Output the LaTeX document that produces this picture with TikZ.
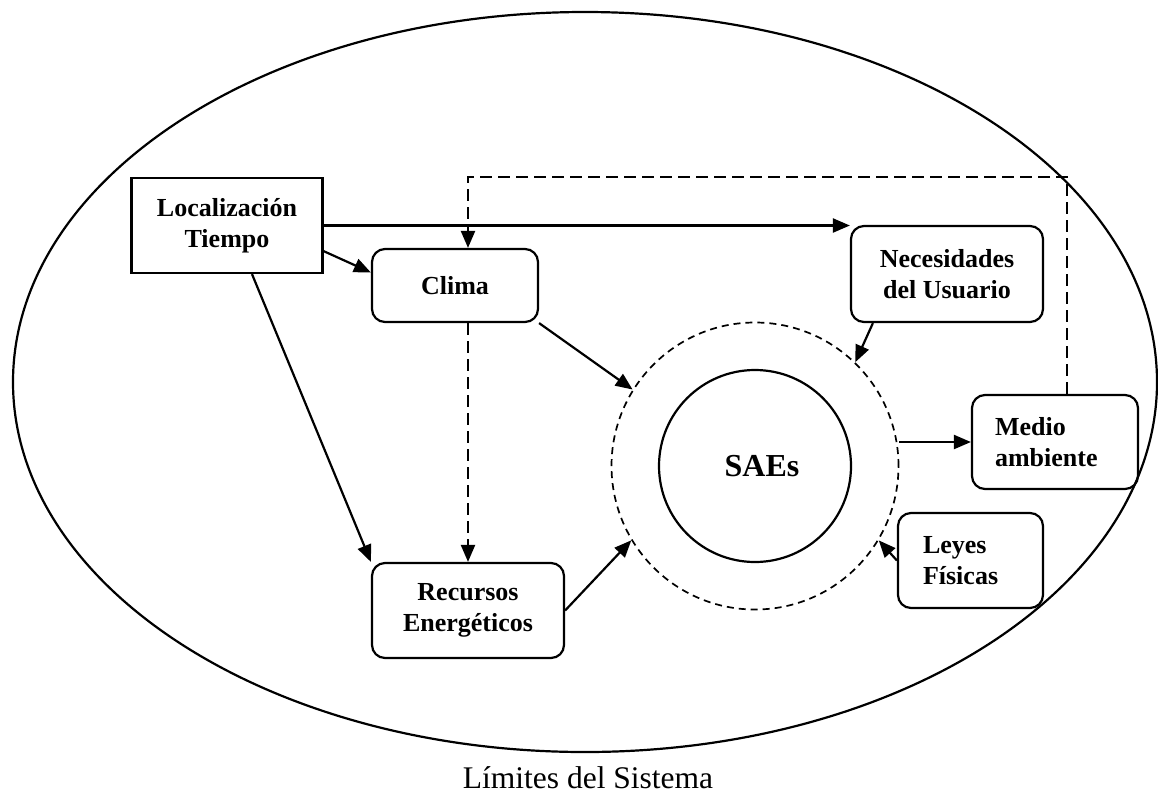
\documentclass[tikz,border=0pt]{standalone}
\usepackage{fontspec}
\setmainfont{Liberation Serif}
\usetikzlibrary{arrows.meta,calc}

\tikzset{
  lw/.style={line width=2.2pt},
  boxtext/.style={font=\fontsize{26}{31}\selectfont\bfseries},
  plainbox/.style={lw, draw, boxtext, inner sep=0pt, align=center},
  roundbox/.style={plainbox, rounded corners=13pt},
  arr/.style={lw, -{Triangle[length=17pt,width=14pt]}},
  dasharr/.style={arr, dash pattern=on 12pt off 6pt},
}

\begin{document}
\begin{tikzpicture}[x=1pt,y=-1pt]
  \useasboundingbox (0,0) rectangle (1158,796);

  % system boundary
  \draw[line width=2.2pt] (585,382) ellipse [x radius=572, y radius=370];
  \node[font=\fontsize{31.5}{36}\selectfont] (lim) at (588,778) {Límites del Sistema};

  % boxes
  \node[plainbox, minimum width=191pt, minimum height=95pt] (loc) at (227,225.5)
    {Localización\\Tiempo};
  \node[roundbox, minimum width=166pt, minimum height=73pt] (clima) at (455,285.5)
    {Clima};
  \node[roundbox, minimum width=192pt, minimum height=96pt] (nec) at (947,274)
    {Necesidades\\del Usuario};
  \node[roundbox, minimum width=166pt, minimum height=94pt, text width=120pt,
        inner xsep=23pt, align=left] (medio) at (1055,442)
    {Medio\\ambiente};
  \node[roundbox, minimum width=145pt, minimum height=95pt, text width=95pt,
        inner xsep=25pt, align=left] (leyes) at (970.5,560.5)
    {Leyes\\Físicas};
  \node[roundbox, minimum width=192pt, minimum height=95pt] (rec) at (468,610.5)
    {Recursos\\Energéticos};

  % core system and its surroundings
  \node[draw, circle, minimum size=287pt, inner sep=0pt,
        line width=1.7pt, dash pattern=on 7pt off 5pt] (ring) at (755,466) {};
  \node[draw, lw, circle, minimum size=192pt, inner sep=0pt,
        font=\fontsize{32}{38}\selectfont\bfseries] (sae) at (755,466)
    {\hspace*{14pt}SAEs};

  % connectors
  \draw[arr] (loc.east) -- (loc.east -| nec.west);
  \draw[arr] ($(loc.south east)+(0,-23)$) -- ($(clima.west)+(0,-13)$);
  \draw[arr] ($(loc.south)+(25,0)$) -- (rec.north west);
  \draw[dasharr] (rec.north |- clima.south) -- (rec.north);
  \draw[arr] (clima.south east) -- (ring.148.7);
  \draw[arr] ($(nec.south west)+(23,0)$) -- (ring.46);
  \draw[arr] (rec.east) -- (ring.211);
  \draw[arr] (ring.east |- medio.west) -- (medio.west);
  \draw[arr] (leyes.west) -- (ring.329);

  % feedback from the environment to the climate
  \coordinate (fbR) at (1067,177);
  \coordinate (fbL) at (468,177);
  \draw[dasharr] (medio.north -| fbR) -- (fbR) -- (fbL) -- (fbL |- clima.north);
\end{tikzpicture}
\end{document}
